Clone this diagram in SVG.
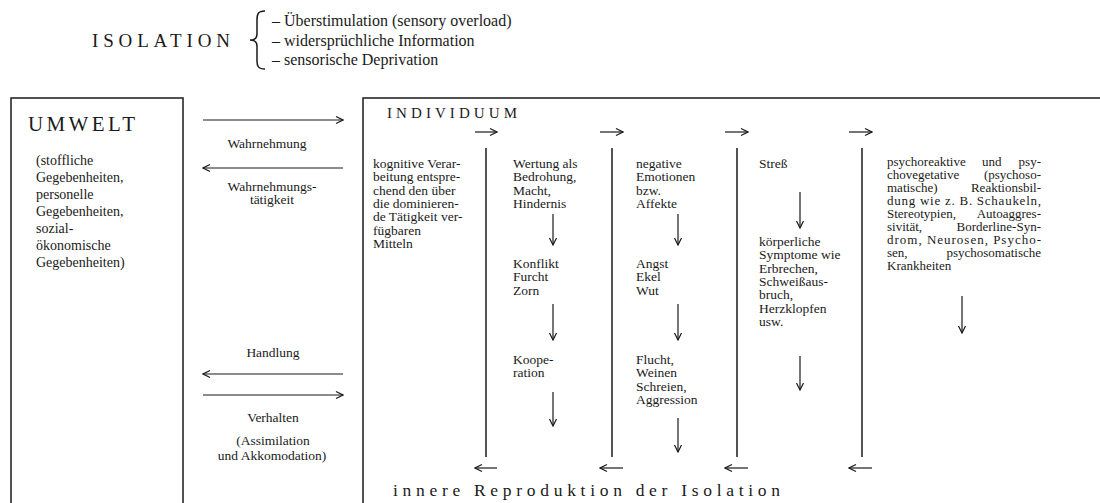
<svg xmlns="http://www.w3.org/2000/svg" width="1100" height="503" viewBox="0 0 1100 503">
<defs>
<marker id="ah" viewBox="0 0 10 10" refX="9" refY="5" markerWidth="10" markerHeight="10" markerUnits="userSpaceOnUse" orient="auto">
<path d="M2,1.5 L9,5 L2,8.5" fill="none" stroke="#1a1a1a" stroke-width="1.2"/>
</marker>
</defs>
<style>
text{font-family:"Liberation Serif","Times New Roman",serif;fill:#1a1a1a}
.t{font-size:13.5px}
.s{font-size:13px}
.l{font-size:14px}
.h{font-size:16px}
.ln{stroke:#1a1a1a;stroke-width:1.5;fill:none}
.ar{stroke:#1a1a1a;stroke-width:1.2;fill:none;marker-end:url(#ah)}
</style>
<rect width="1100" height="503" fill="#ffffff"/>

<g id="isolation">
<text x="92" y="47" font-size="19" textLength="138" lengthAdjust="spacing">ISOLATION</text>
<path class="ln" stroke-width="1.2" d="M265,11 C258,11 257,14 257,20 L257,34 C257,38 255,40 250,40 C255,40 257,42 257,46 L257,61 C257,66 258,69 265,69"/>
<text class="h" x="272" y="26">– Überstimulation (sensory overload)</text>
<text class="h" x="272" y="45.5">– widersprüchliche Information</text>
<text class="h" x="272" y="65">– sensorische Deprivation</text>
</g>

<g id="umwelt">
<path class="ln" d="M11,503 L11,98 L183,98 L183,503"/>
<text x="28" y="131" font-size="21" textLength="107" lengthAdjust="spacing">UMWELT</text>
<text class="l" x="36" y="165">(stoffliche</text>
<text class="l" x="36" y="182">Gegebenheiten,</text>
<text class="l" x="36" y="199">personelle</text>
<text class="l" x="36" y="216">Gegebenheiten,</text>
<text class="l" x="36" y="233">sozial-</text>
<text class="l" x="36" y="250">ökonomische</text>
<text class="l" x="36" y="267">Gegebenheiten)</text>
</g>

<g id="individuum">
<path class="ln" d="M363,503 L363,98 L1100,98"/>
<text x="387" y="118" font-size="15" textLength="130" lengthAdjust="spacing">INDIVIDUUM</text>
<text x="393" y="496" font-size="17.5" textLength="387" lengthAdjust="spacing">innere Reproduktion der Isolation</text>
</g>

<g id="col1" class="t">
<text x="373" y="168">kognitive Verar-</text>
<text x="373" y="181.3">beitung entspre-</text>
<text x="373" y="194.6">chend den über</text>
<text x="373" y="207.9">die dominieren-</text>
<text x="373" y="221.2">de Tätigkeit ver-</text>
<text x="373" y="234.5">fügbaren</text>
<text x="373" y="247.8">Mitteln</text>
</g>

<g id="col2" class="t">
<text x="513" y="168">Wertung als</text>
<text x="513" y="181.3">Bedrohung,</text>
<text x="513" y="194.6">Macht,</text>
<text x="513" y="207.9">Hindernis</text>
<text x="513" y="268">Konflikt</text>
<text x="513" y="281.3">Furcht</text>
<text x="513" y="294.6">Zorn</text>
<text x="513" y="364">Koope-</text>
<text x="513" y="377.3">ration</text>
</g>

<g id="col3" class="t">
<text x="636" y="168">negative</text>
<text x="636" y="181.3">Emotionen</text>
<text x="636" y="194.6">bzw.</text>
<text x="636" y="207.9">Affekte</text>
<text x="636" y="268">Angst</text>
<text x="636" y="281.3">Ekel</text>
<text x="636" y="294.6">Wut</text>
<text x="636" y="364">Flucht,</text>
<text x="636" y="377.3">Weinen</text>
<text x="636" y="390.6">Schreien,</text>
<text x="636" y="403.9">Aggression</text>
</g>

<g id="col4" class="t">
<text x="759" y="168">Streß</text>
<text x="759" y="246">körperliche</text>
<text x="759" y="259.3">Symptome wie</text>
<text x="759" y="272.6">Erbrechen,</text>
<text x="759" y="285.9">Schweißaus-</text>
<text x="759" y="299.2">bruch,</text>
<text x="759" y="312.5">Herzklopfen</text>
<text x="759" y="325.8">usw.</text>
</g>

<g id="col5" class="s">
<text y="166"><tspan x="887">psychoreaktive</tspan><tspan x="982">und</tspan><tspan x="1041" text-anchor="end">psy-</tspan></text>
<text y="179"><tspan x="887">chovegetative</tspan><tspan x="1041" text-anchor="end">(psychoso-</tspan></text>
<text y="192"><tspan x="887">matische)</tspan><tspan x="1041" text-anchor="end">Reaktionsbil-</tspan></text>
<text y="205" x="887" textLength="154" lengthAdjust="spacing">dung wie z. B. Schaukeln,</text>
<text y="218"><tspan x="887">Stereotypien,</tspan><tspan x="1041" text-anchor="end">Autoaggres-</tspan></text>
<text y="231"><tspan x="887">sivität,</tspan><tspan x="1041" text-anchor="end">Borderline-Syn-</tspan></text>
<text y="244" x="887" textLength="154" lengthAdjust="spacing">drom, Neurosen, Psycho-</text>
<text y="257"><tspan x="887">sen,</tspan><tspan x="1041" text-anchor="end">psychosomatische</tspan></text>
<text y="270" x="887">Krankheiten</text>
</g>

<g id="connectors">
<path class="ar" d="M203,120 L343,120"/>
<path class="ar" d="M343,168 L203,168"/>
<path class="ar" d="M343,374 L203,374"/>
<path class="ar" d="M203,395 L343,395"/>
<text class="t" x="267" y="148" text-anchor="middle">Wahrnehmung</text>
<text class="t" x="272" y="191" text-anchor="middle">Wahrnehmungs-</text>
<text class="t" x="272" y="204" text-anchor="middle">tätigkeit</text>
<text class="t" x="273" y="357" text-anchor="middle">Handlung</text>
<text class="t" x="273" y="422" text-anchor="middle">Verhalten</text>
<text class="t" x="273" y="445" text-anchor="middle">(Assimilation</text>
<text class="t" x="272" y="460" text-anchor="middle">und Akkomodation)</text>

<path class="ar" d="M475,132 L497,132"/>
<path class="ar" d="M600,132 L623,132"/>
<path class="ar" d="M725,132 L748,132"/>
<path class="ar" d="M849,132 L872,132"/>

<path class="ln" d="M486,148 L486,457"/>
<path class="ln" d="M612,148 L612,457"/>
<path class="ln" d="M737,148 L737,457"/>
<path class="ln" d="M862,148 L862,457"/>

<path class="ar" d="M553,214 L553,245"/>
<path class="ar" d="M553,304 L553,340"/>
<path class="ar" d="M553,392 L553,426"/>
<path class="ar" d="M678,214 L678,245"/>
<path class="ar" d="M678,304 L678,340"/>
<path class="ar" d="M678,418 L678,452"/>
<path class="ar" d="M800,192 L800,228"/>
<path class="ar" d="M800,356 L800,390"/>
<path class="ar" d="M962,296 L962,333"/>

<path class="ar" d="M497,468 L475,468"/>
<path class="ar" d="M623,468 L600,468"/>
<path class="ar" d="M748,468 L725,468"/>
<path class="ar" d="M872,468 L849,468"/>
</g>
</svg>
